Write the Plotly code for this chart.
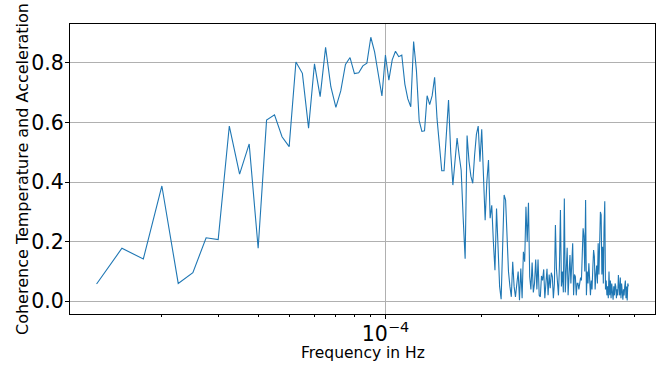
import numpy as np
import plotly.graph_objects as go

# frequency bins: index * resolution (Hz)
bin_start = 5
bin_step = 2.5e-6
coherence = [
    0.058, 0.178, 0.142, 0.387, 0.060, 0.096, 0.213, 0.207, 0.588, 0.427,   # 5-14
    0.528, 0.178, 0.608, 0.626, 0.552, 0.519, 0.803, 0.765, 0.581, 0.797,   # 15-24
    0.687, 0.852, 0.720, 0.651, 0.706, 0.795, 0.818, 0.764, 0.767, 0.790,   # 25-34
    0.799, 0.886, 0.837, 0.760, 0.689, 0.826, 0.742, 0.810, 0.839, 0.821,   # 35-44
    0.826, 0.729, 0.679, 0.653, 0.872, 0.774, 0.606, 0.570, 0.572, 0.690,   # 45-54
    0.660, 0.690, 0.752, 0.612, 0.528, 0.438, 0.438, 0.560, 0.675, 0.500,   # 55-64
    0.390, 0.470, 0.548, 0.490, 0.440, 0.280, 0.143, 0.556, 0.470, 0.420,   # 65-74
    0.396, 0.490, 0.560, 0.588, 0.468, 0.577, 0.420, 0.272, 0.400, 0.474,   # 75-84
    0.279, 0.322, 0.200, 0.104, 0.311, 0.150, 0.050, 0.007, 0.180, 0.357,   # 85-94
    0.340, 0.220, 0.100, 0.050, 0.015, 0.133, 0.050, 0.015, 0.060, 0.100,   # 95-104
    0.004, 0.110, 0.010, 0.166, 0.133, 0.317, 0.200, 0.331, 0.083, 0.040,   # 105-114
    0.130, 0.030, 0.060, 0.140, 0.040, 0.140, 0.020, 0.015, 0.085, 0.070,   # 115-124
    0.107, 0.010, 0.060, 0.109, 0.020, 0.090, 0.044, 0.096, 0.083, 0.010,   # 125-134
    0.060, 0.256, 0.110, 0.060, 0.020, 0.120, 0.306, 0.050, 0.100, 0.030,   # 135-144
    0.345, 0.030, 0.120, 0.180, 0.020, 0.100, 0.155, 0.060, 0.130, 0.195,   # 145-154
    0.020, 0.090, 0.083, 0.020, 0.060, 0.060, 0.040, 0.060, 0.080, 0.070,   # 155-164
    0.170, 0.245, 0.220, 0.100, 0.340, 0.020, 0.100, 0.060, 0.128, 0.050,   # 165-174
    0.020, 0.070, 0.040, 0.110, 0.172, 0.150, 0.040, 0.090, 0.120, 0.060,   # 175-184
    0.195, 0.090, 0.160, 0.300, 0.290, 0.090, 0.183, 0.060, 0.250, 0.336,   # 185-194
    0.040, 0.070, 0.020, 0.050, 0.010, 0.100, 0.020, 0.070, 0.010, 0.060,   # 195-204
    0.030, 0.005, 0.050, 0.020, 0.060, 0.050, 0.010, 0.040, 0.020, 0.088,   # 205-214
    0.050, 0.020, 0.080, 0.010, 0.060, 0.038, 0.005, 0.040, 0.020, 0.050,   # 215-224
    0.070, 0.010, 0.050, 0.003, 0.060, 0.050,                               # 225-230
]
freq = (np.arange(len(coherence)) + bin_start) * bin_step

y_ticks = [0.0, 0.2, 0.4, 0.6, 0.8]
x_major = [1e-4]
x_major_text = ["10<sup>\u22124</sup>"]
x_minor = [2e-5, 3e-5, 4e-5, 5e-5, 6e-5, 7e-5, 8e-5, 9e-5, 2e-4, 3e-4, 4e-4, 5e-4, 6e-4]
x_title = "Frequency in Hz"
y_title = "Coherence Temperature and Acceleration"

fig = go.Figure()
fig.add_trace(go.Scatter(x=freq, y=coherence, mode="lines",
                         line=dict(color="#1f77b4", width=1.1),
                         showlegend=False, hoverinfo="skip"))

font = "DejaVu Sans, Arial, sans-serif"
fig.update_layout(
    width=670, height=365,
    margin=dict(l=70, r=15, t=24, b=51),
    paper_bgcolor="white", plot_bgcolor="white",
    font=dict(family=font, color="black"),
)
fig.update_xaxes(
    type="log", range=[-4.9862, -3.1572], automargin=False,
    tickmode="array", tickvals=x_major, ticktext=x_major_text,
    tickfont=dict(size=20.5, family=font),
    ticks="outside", ticklen=4, tickwidth=1, tickcolor="black",
    ticklabelstandoff=-3,
    showgrid=True, gridcolor="#b0b0b0", gridwidth=1,
    minor=dict(tickmode="array", tickvals=x_minor, ticks="outside",
               ticklen=2, tickwidth=1, tickcolor="black", showgrid=False),
    showline=True, linecolor="black", linewidth=1, mirror=True,
    zeroline=False,
)
fig.update_yaxes(
    range=[-0.0426, 0.9305], automargin=False,
    tickmode="array", tickvals=y_ticks, tickformat=".1f",
    tickfont=dict(size=20.5, family=font),
    ticks="outside", ticklen=4, tickwidth=1, tickcolor="black",
    ticklabelstandoff=-3,
    showgrid=True, gridcolor="#b0b0b0", gridwidth=1,
    showline=True, linecolor="black", linewidth=1, mirror=True,
    zeroline=False,
)
fig.add_annotation(text=x_title, xref="paper", yref="paper", x=0.5, y=-0.1276,
                   yshift=-2, xanchor="center", yanchor="middle", showarrow=False,
                   font=dict(size=15.5, family=font, color="black"))
fig.add_annotation(text=y_title, xref="paper", yref="paper", x=0, y=0.5,
                   xshift=-48, xanchor="center", yanchor="middle", showarrow=False,
                   textangle=-90, font=dict(size=16, family=font, color="black"))

fig.write_html("out.html")
